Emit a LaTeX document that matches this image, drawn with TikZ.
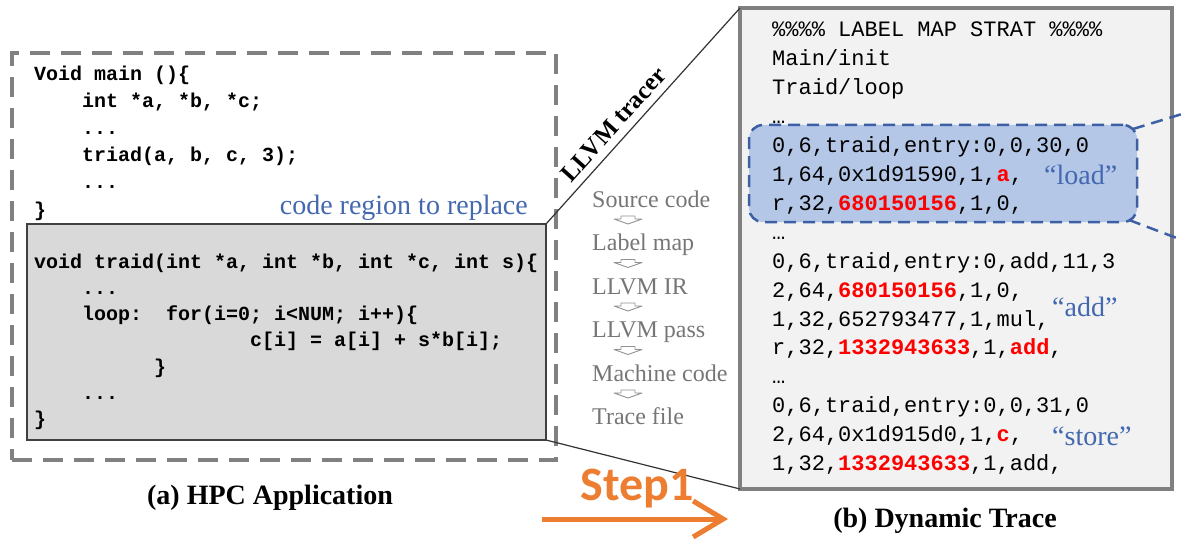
\documentclass[tikz,border=0pt]{standalone}
\usepackage{fontspec}
\setmainfont{Liberation Serif}
\setmonofont{Liberation Mono}
\newfontfamily\stepfont{Carlito}
\usetikzlibrary{arrows.meta,calc}

\definecolor{outergray}{RGB}{128,128,128}
\definecolor{regionfill}{RGB}{217,217,217}
\definecolor{regionline}{RGB}{64,64,64}
\definecolor{tracefill}{RGB}{242,242,242}
\definecolor{traceline}{RGB}{128,128,128}
\definecolor{bluefill}{RGB}{180,199,231}
\definecolor{blueline}{RGB}{61,96,165}
\definecolor{bluetext}{RGB}{68,104,176}
\definecolor{flowgray}{RGB}{118,118,118}
\definecolor{steporange}{RGB}{237,125,49}
\definecolor{hired}{RGB}{255,0,0}

% fixed-width indentation measured in characters of the current font
\newcommand{\blanks}[1]{\hspace*{#1\fontcharwd\font`0 }}
\newcommand{\hl}[1]{\textcolor{hired}{\bfseries #1}}
\newcommand{\tdots}{...}

\tikzset{
  codeline/.style={anchor=base west, inner sep=0pt,
    font=\ttfamily\bfseries\fontsize{20}{24}\selectfont},
  traceline/.style={anchor=base west, inner sep=0pt,
    font=\ttfamily\fontsize{22}{26}\selectfont},
  flowitem/.style={anchor=base west, inner sep=0pt, text=flowgray,
    font=\fontsize{24}{28}\selectfont},
  flowarrow/.style={draw=flowgray!80, fill=white, line width=0.9pt, line join=round},
  caption/.style={anchor=base, inner sep=0pt,
    font=\bfseries\fontsize{28}{32}\selectfont},
  note/.style={anchor=base west, inner sep=0pt, text=bluetext,
    font=\fontsize{28}{32}\selectfont},
  zoomline/.style={draw=black!80, line width=1.2pt},
  bluedash/.style={draw=blueline, line width=2.5pt, dash pattern=on 12pt off 7pt},
  steparrow/.style={draw=steporange, line width=5pt,
    -{Straight Barb[length=30pt,width=36pt]}},
}

\begin{document}
\begin{tikzpicture}[x=1pt,y=-1pt]
\useasboundingbox (0,0) rectangle (1182,540);

% ---------- (a) HPC application ----------
\node (app) [draw=outergray, line width=4pt, dash pattern=on 20pt off 11pt,
  minimum width=544pt, minimum height=407pt, inner sep=0pt, outer sep=0pt,
  anchor=north west] at (12,53) {};
\node (gbox) [draw=regionline, fill=regionfill, line width=2pt,
  minimum width=519pt, minimum height=216pt, inner sep=0pt, outer sep=0pt,
  anchor=north west] at (27,224) {};

\foreach \t [count=\i from 0] in {
  {Void main ()\{},
  {\blanks{4}int *a, *b, *c;},
  {\blanks{4}\tdots},
  {\blanks{4}triad(a, b, c, 3);},
  {\blanks{4}\tdots},
  {\}}}
  \node[codeline] (mc\i) at (34,{80.5+27.1*\i}) {\t};

\foreach \t [count=\i from 0] in {
  {void traid(int *a, int *b, int *c, int s)\{},
  {\blanks{4}\tdots},
  {\blanks{4}loop:\blanks{2}for(i=0; i<NUM; i++)\{},
  {\blanks{18}c[i] = a[i] + s*b[i];},
  {\blanks{10}\}},
  {\blanks{4}\tdots},
  {\}}}
  \node[codeline] (tc\i) at (34,{268+26.3*\i}) {\t};

\node (regionlabel) [note, anchor=base east] at (528,214) {code region to replace};
\node (capa) [caption] at (270,504) {(a) HPC Application};

% ---------- (b) dynamic trace ----------
\node (tbox) [draw=traceline, fill=tracefill, line width=3.5pt,
  minimum width=432pt, minimum height=481pt, inner sep=0pt, outer sep=0pt,
  anchor=north west] at (740,8) {};
\node (blue) [draw=blueline, fill=bluefill, line width=2.5pt,
  dash pattern=on 12pt off 7pt, rounded corners=14pt,
  minimum width=388pt, minimum height=97pt, inner sep=0pt, outer sep=0pt,
  anchor=north west] at (749,125) {};

\foreach \t [count=\i from 0] in {
  {\%\%\%\% LABEL MAP STRAT \%\%\%\%},
  {Main/init},
  {Traid/loop},
  {…},
  {0,6,traid,entry:0,0,30,0},
  {1,64,0x1d91590,1,\hl{a},},
  {r,32,\hl{680150156},1,0,},
  {…},
  {0,6,traid,entry:0,add,11,3},
  {2,64,\hl{680150156},1,0,},
  {1,32,652793477,1,mul,},
  {r,32,\hl{1332943633},1,\hl{add},},
  {…},
  {0,6,traid,entry:0,0,31,0},
  {2,64,0x1d915d0,1,\hl{c},},
  {1,32,\hl{1332943633},1,add,}}
  \node[traceline] (tr\i) at (772,{37+28.9*\i}) {\t};

\node (load) [note] at (1044,185) {“load”};
\node (add) [note] at (1052,316) {“add”};
\node (store) [note] at (1052,445) {“store”};
\node (capb) [caption] at (945,527) {(b) Dynamic Trace};

\coordinate (bu) at (1182,114);
\coordinate (bl) at (1182,240);
\draw[bluedash] ($(blue.north east)+(-4,4)$) -- (bu);
\draw[bluedash] ($(blue.south east)+(-8,-2)$) -- (bl);

% ---------- LLVM tracer funnel ----------
\draw[zoomline] (gbox.north east) -- node[pos=0.41, sloped, above=4pt,
  font=\bfseries\fontsize{25}{28}\selectfont] (tracer) {LLVM tracer} (tbox.north west);
\draw[zoomline] (gbox.south east) -- (tbox.south west);

\foreach \t [count=\i from 1] in {Source code, Label map, LLVM IR, LLVM pass, Machine code, Trace file}
  \node[flowitem] (f\i) at (592,{207+43.5*(\i-1)}) {\t};

\foreach \i in {1,...,5} {
  \coordinate (fa\i) at (628,{220+43.5*(\i-1)});
  \draw[flowarrow, shift={(fa\i)}] (-7,-4) -- (7,-4) -- (7,-1) -- (14,-1)
    -- (0,4) -- (-14,-1) -- (-7,-1) -- cycle;
}

% ---------- step arrow ----------
\node (step) [anchor=base, inner sep=0pt, text=steporange,
  font=\stepfont\bfseries\fontsize{48}{52}\selectfont] at (637,500) {Step1};
\coordinate (s0) at (542,519);
\coordinate (s1) at (728,519);
\draw[steparrow] (s0) -- (s1);
\end{tikzpicture}
\end{document}
